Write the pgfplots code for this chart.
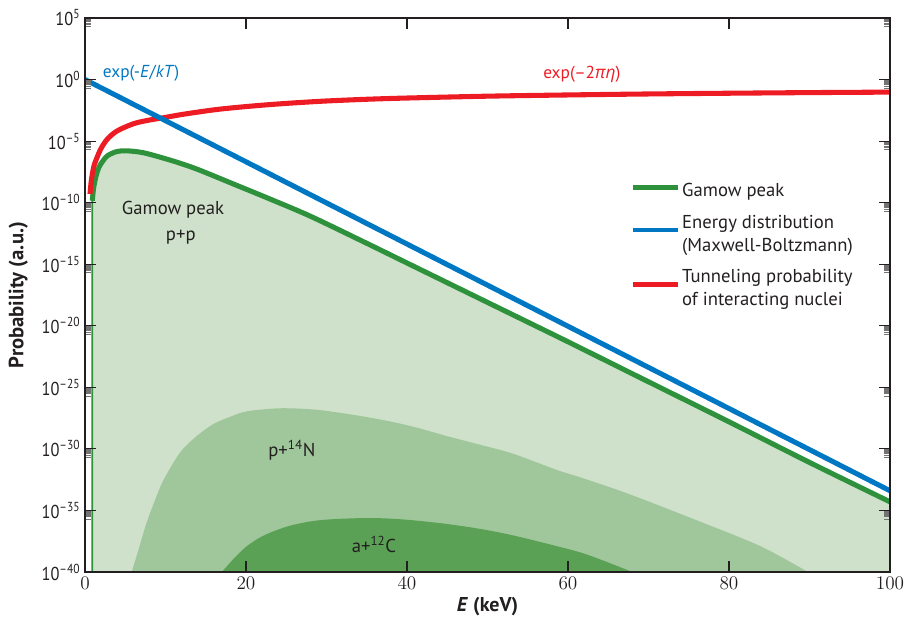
\documentclass[border=0pt]{standalone}
\usepackage{fontspec}
\setmainfont{PT Sans}
\newfontfamily\condfont[FakeStretch=0.88]{PT Sans}
\newfontfamily\greekfont{Open Sans}
\usepackage{pgfplots}
\pgfplotsset{compat=1.18}
\definecolor{cgreen}{RGB}{46,146,60}
\definecolor{cblue}{RGB}{0,119,195}
\definecolor{cred}{RGB}{237,28,36}
\definecolor{fillA}{RGB}{207,225,203}
\definecolor{fillB}{RGB}{160,199,155}
\definecolor{fillC}{RGB}{90,161,86}
\definecolor{txt}{RGB}{35,31,32}
\pgfplotsset{myleg/.style={legend image code/.code={\draw[##1, line width=3.4pt] (0pt,0.3em) -- (33.75pt,0.3em);}}}
\begin{document}
\begin{tikzpicture}
\begin{axis}[
  scale only axis, width=603.75pt, height=415.5pt,
  xmin=0, xmax=100, ymode=log, ymin=1e-40, ymax=1e5,
  xtick={0,20,40,60,80,100},
  ytick={1e-40,1e-35,1e-30,1e-25,1e-20,1e-15,1e-10,1e-5,1,1e5},
  yticklabels={10\textsuperscript{–40},10\textsuperscript{–35},10\textsuperscript{–30},10\textsuperscript{–25},10\textsuperscript{–20},10\textsuperscript{–15},10\textsuperscript{–10},10\textsuperscript{–5},10\textsuperscript{0},10\textsuperscript{5}},
  minor ytick={2e4,3e4,4e4,5e4,6e4,7e4,8e4,9e4,
    2e-1,3e-1,4e-1,5e-1,6e-1,7e-1,8e-1,9e-1,
    2e-6,3e-6,4e-6,5e-6,6e-6,7e-6,8e-6,9e-6,
    2e-11,3e-11,4e-11,5e-11,6e-11,7e-11,8e-11,9e-11,
    2e-16,3e-16,4e-16,5e-16,6e-16,7e-16,8e-16,9e-16,
    2e-21,3e-21,4e-21,5e-21,6e-21,7e-21,8e-21,9e-21,
    2e-26,3e-26,4e-26,5e-26,6e-26,7e-26,8e-26,9e-26,
    2e-31,3e-31,4e-31,5e-31,6e-31,7e-31,8e-31,9e-31,
    2e-36,3e-36,4e-36,5e-36,6e-36,7e-36,8e-36,9e-36},
  tick align=inside,
  major tick length=8pt, minor tick length=4.5pt,
  major tick style={line width=0.8pt, txt},
  minor tick style={line width=0.6pt, black!55},
  axis line style={line width=0.9pt, txt},
  axis on top,
  xticklabel style={font=\condfont\fontsize{14}{16}\selectfont, text=txt},
  yticklabel style={font=\condfont\fontsize{14}{16}\selectfont, text=txt},
  xlabel={\textbf{\textit{E} (keV)}},
  ylabel={\textbf{Probability (a.u.)}},
  xlabel style={font=\fontsize{15}{17}\selectfont, text=txt, at={(axis description cs:0.5,-0.063)}, anchor=center},
  ylabel style={font=\fontsize{15.5}{17}\selectfont, text=txt, at={(axis description cs:-0.083,0.5)}, anchor=center},
  legend style={draw=none, fill=none, at={(axis description cs:0.677,0.7016)}, anchor=north west,
    inner sep=0pt, row sep=12pt, font=\fontsize{14}{17.5}\selectfont, text=txt,
    nodes={align=left, inner sep=0pt, inner xsep=1.8pt}},
  legend cell align=left,
  myleg,
]
\addlegendimage{cgreen}
\addlegendentry{Gamow peak}
\addlegendimage{cblue}
\addlegendentry{Energy distribution\\(Maxwell-Boltzmann)}
\addlegendimage{cred}
\addlegendentry{Tunneling probability\\of interacting nuclei}

% Gamow peak p+p area
\addplot[forget plot, fill=fillA, draw=cgreen, line width=1.3pt] coordinates {
 (0.91,1e-40) (0.91,1.413e-10) (1.05,1.259e-9) (1.33,1.122e-8) (1.6,4.47e-8) (1.95,1.349e-7)
 (2.77,6.31e-7) (4.0,1.445e-6) (5.25,1.622e-6) (7.3,1.122e-6) (10.2,3.39e-7) (12.3,1.259e-7)
 (14.4,3.98e-8) (18.5,3.16e-9) (22.6,2.51e-10) (28,7.94e-12) (35,5.01e-14) (40,1.259e-15)
 (45,3.16e-17) (50,7.94e-19) (55,2.0e-20) (60,5.01e-22) (70,2.82e-25) (80,1.585e-28)
 (90,7.94e-32) (100,5.01e-35) (100,1e-40) (0.91,1e-40)};

% p+14N area
\addplot[forget plot, fill=fillB, draw=none, smooth] coordinates {
 (5.8,1e-40) (6.5,3.16e-39) (7.65,1e-36) (8.5,3.16e-35) (9.7,2.51e-33) (11.8,5.01e-31)
 (13.8,1e-29) (15.9,1e-28) (18,3.98e-28) (20.1,1.122e-27) (24.2,1.995e-27) (28.4,1.585e-27)
 (32,7.94e-28) (36.6,2.51e-28) (40.8,6.31e-29) (44.9,1.122e-29) (49,2.24e-30) (53.2,3.98e-31)
 (59,1.585e-32) (61.5,5.01e-33) (67.3,2.51e-34) (75.6,2.0e-36) (83.9,1.259e-38) (89.8,1e-40)};

% a+12C area
\addplot[forget plot, fill=fillC, draw=none, smooth] coordinates {
 (17.0,1e-40) (18.5,1.259e-39) (20.1,1.259e-38) (22,7.94e-38) (24.2,3.16e-37) (26,7.08e-37)
 (28.4,1.413e-36) (31,2.0e-36) (34.6,2.40e-36) (37.5,2.24e-36) (40.8,1.585e-36) (45,7.94e-37)
 (49.1,3.16e-37) (53,1e-37) (57.4,1.995e-38) (61.5,3.98e-39) (64.5,7.94e-40) (68,1e-40)};

% Gamow peak curve
\addplot[forget plot, cgreen, line width=3.8pt, smooth] coordinates {
 (0.91,1.413e-10) (1.05,1.259e-9) (1.33,1.122e-8) (1.6,4.47e-8) (1.95,1.349e-7)
 (2.77,6.31e-7) (4.0,1.445e-6) (5.25,1.622e-6) (7.3,1.122e-6) (10.2,3.39e-7) (12.3,1.259e-7)
 (14.4,3.98e-8) (18.5,3.16e-9) (22.6,2.51e-10) (28,7.94e-12) (35,5.01e-14) (40,1.259e-15)
 (45,3.16e-17) (50,7.94e-19) (55,2.0e-20) (60,5.01e-22) (70,2.82e-25) (80,1.585e-28)
 (90,7.94e-32) (100,5.01e-35)};

% Tunneling probability
\addplot[forget plot, cred, line width=3.8pt, smooth] coordinates {
 (0.62,5.01e-10) (0.75,3.98e-9) (0.91,2.09e-8) (1.1,8.91e-8) (1.33,2.51e-7) (1.95,2.24e-6)
 (2.77,1.445e-5) (4.0,6.76e-5) (6.1,2.69e-4) (8.15,5.37e-4) (9.4,7.24e-4) (12.3,1.549e-3)
 (16.4,3.72e-3) (20.6,6.92e-3) (24.7,1.122e-2) (29.7,1.778e-2) (35,2.51e-2) (40,3.16e-2)
 (50,4.47e-2) (60,5.62e-2) (70,6.76e-2) (80,7.76e-2) (90,8.71e-2) (100,9.55e-2)};

% Maxwell-Boltzmann
\addplot[forget plot, cblue, line width=3.8pt] coordinates {
 (0,1) (20,2.09e-7) (40,4.37e-14) (60,9.12e-21) (80,1.905e-27) (100,3.98e-34)};

\node[anchor=west, inner sep=0pt, text=cblue, font=\fontsize{13}{15}\selectfont] at (axis cs:2.2,3.1) {exp(-\textit{E}/\textit{kT})};
\node[anchor=west, inner sep=0pt, text=cred, font=\fontsize{13}{15}\selectfont] at (axis cs:56.9,2.6) {exp(–2{\greekfont\itshape πη})};
\node[inner sep=0pt, text=txt, font=\fontsize{14}{16}\selectfont] at (axis cs:10.93,2.82e-11) {Gamow peak};
\node[inner sep=0pt, text=txt, font=\fontsize{14}{16}\selectfont] at (axis cs:11.9,1.6e-13) {p+p};
\node[inner sep=0pt, text=txt, font=\fontsize{14}{16}\selectfont] at (axis cs:25.7,7.9e-31) {p+\textsuperscript{14}N};
\node[inner sep=0pt, text=txt, font=\fontsize{14}{16}\selectfont] at (axis cs:35.9,1.82e-38) {a+\textsuperscript{12}C};
\end{axis}
\pgfresetboundingbox
\path (-63.75pt,-37.5pt) rectangle (614.25pt,429pt);
\end{tikzpicture}
\end{document}
